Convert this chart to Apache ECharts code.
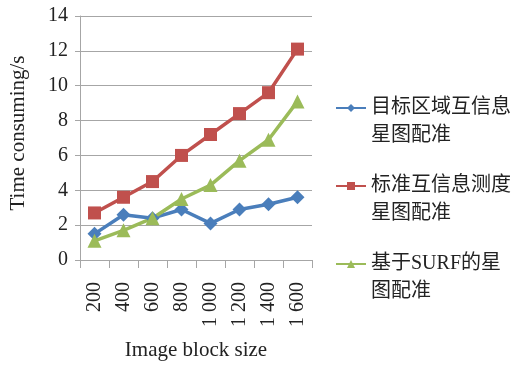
<!DOCTYPE html>
<html>
<head>
<meta charset="utf-8">
<script src="https://cdn.jsdelivr.net/npm/echarts@6/dist/echarts.min.js"></script>
<style>
  html, body { margin: 0; padding: 0; background: #fff; }
  #chart { width: 517px; height: 367px; }
</style>
</head>
<body>
<div id="chart"></div>
<script>
// Block sizes along the x axis
const blockSizes = ['200', '400', '600', '800', '1 000', '1 200', '1 400', '1 600'];

// Registration time (s) for each method
const regionMI = [1.5, 2.6, 2.4, 2.9, 2.1, 2.9, 3.2, 3.6];
const standardMI = [2.7, 3.6, 4.5, 6.0, 7.2, 8.4, 9.6, 12.1];
const surfBased = [1.1, 1.7, 2.4, 3.5, 4.3, 5.7, 6.9, 9.1];

const seriesNames = ['目标区域互信息星图配准', '标准互信息测度星图配准', '基于SURF的星图配准'];
// Legend text wrapped onto two lines; the leading blank line keeps the icon beside the first line
const legendLabels = {
  '目标区域互信息星图配准': ['目标区域互信息', '星图配准'],
  '标准互信息测度星图配准': ['标准互信息测度', '星图配准'],
  '基于SURF的星图配准': ['基于SURF的星', '图配准']
};

const serif = '"Liberation Serif", "Times New Roman", serif';
const mixed = '"Liberation Serif", "Noto Sans CJK SC", serif';

const chart = echarts.init(document.getElementById('chart'));

function lineSeries(name, data, color, symbol, size) {
  return {
    name: name,
    type: 'line',
    data: data,
    symbol: symbol,
    symbolSize: size,
    lineStyle: { color: color, width: 3.5 },
    itemStyle: { color: color },
    emphasis: { disabled: true },
    animation: false
  };
}

chart.setOption({
  backgroundColor: '#ffffff',
  grid: { left: 80, right: 205, top: 16, bottom: 107 },
  legend: {
    orient: 'vertical',
    left: 330,
    top: 61,
    itemWidth: 30,
    itemHeight: 10,
    itemGap: -6,
    data: seriesNames,
    formatter: function (n) { return '\n' + legendLabels[n].join('\n'); },
    textStyle: {
      fontFamily: mixed,
      fontSize: 20,
      color: '#222',
      lineHeight: 28
    }
  },
  xAxis: {
    type: 'category',
    data: blockSizes,
    boundaryGap: true,
    name: 'Image block size',
    nameLocation: 'middle',
    nameGap: 80,
    nameTextStyle: { fontFamily: serif, fontSize: 21, color: '#222' },
    axisLine: { lineStyle: { color: '#a6a6a6', width: 1 } },
    axisTick: { show: true, length: 8, lineStyle: { color: '#a6a6a6' } },
    axisLabel: {
      rotate: 90,
      fontFamily: serif,
      fontSize: 20,
      color: '#222',
      margin: 22,
      padding: [0, 0, 14, 0]
    }
  },
  yAxis: {
    type: 'value',
    min: 0,
    max: 14,
    interval: 2,
    name: 'Time consuming/s',
    nameLocation: 'middle',
    nameGap: 51,
    nameTextStyle: { fontFamily: serif, fontSize: 21, color: '#222', padding: [0, 0, 0, 10] },
    axisLine: { show: true, lineStyle: { color: '#a6a6a6', width: 1 } },
    axisTick: { show: true, length: 5, lineStyle: { color: '#a6a6a6' } },
    axisLabel: { fontFamily: serif, fontSize: 20, color: '#222', margin: 12 },
    splitLine: { lineStyle: { color: '#a6a6a6', width: 1 } }
  },
  series: [
    lineSeries(seriesNames[0], regionMI, '#4a7ebb', 'diamond', 14),
    lineSeries(seriesNames[1], standardMI, '#c0504d', 'rect', 13),
    lineSeries(seriesNames[2], surfBased, '#9bbb59', 'triangle', 14)
  ]
});
</script>
</body>
</html>
